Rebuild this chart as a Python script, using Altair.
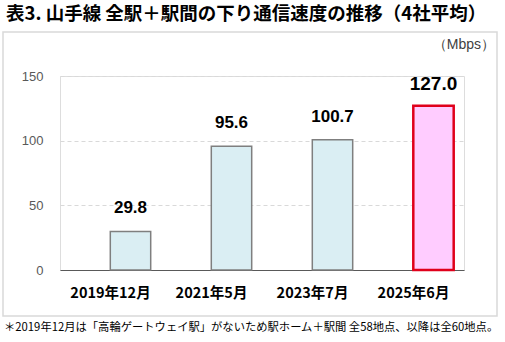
import altair as alt
import pandas as pd

categories = ["2019年12月", "2021年5月", "2023年7月", "2025年6月"]
values = [29.8, 95.6, 100.7, 127.0]
labels = ["29.8", "95.6", "100.7", "127.0"]
highlight = [False, False, False, True]

title_text = "表3. 山手線 全駅＋駅間の下り通信速度の推移（4社平均）"
unit_text = "（Mbps）"
note_text = "＊2019年12月は「高輪ゲートウェイ駅」がないため駅ホーム＋駅間 全58地点、以降は全60地点。"

df = pd.DataFrame({"cat": categories, "val": values, "lab": labels, "hl": highlight})

JP = "Noto Sans CJK JP"
NUM = "Liberation Sans"

W, H = 404, 194
x = alt.X("cat:N", sort=categories, title=None,
          scale=alt.Scale(paddingInner=0.6, paddingOuter=0.3),
          axis=alt.Axis(labelAngle=0, labelFont=JP, labelFontWeight="bold", labelFontSize=14.5,
                        labelColor="#000000", labelPadding=16, ticks=False,
                        domainColor="#595959", domainWidth=1))
y = alt.Y("val:Q", title=None,
          scale=alt.Scale(domain=[0, 150], nice=False),
          axis=alt.Axis(values=[0, 50, 100, 150], labelFont=NUM, labelFontSize=13,
                        labelColor="#595959", labelPadding=17, ticks=False, domain=False,
                        grid=True, gridColor="#d9d9d9", gridDash=[4, 3], gridWidth=1))

base = alt.Chart(df)
one = "datum.cat == '2019年12月'"
SHIFT = 20

frame = base.transform_filter(one).mark_rect(
    fill=None, fillOpacity=0, stroke="#d9d9d9", strokeWidth=1.5).encode(
    x=alt.value(-57), x2=alt.value(437), y=alt.value(-44), y2=alt.value(240)
)

bars_normal = base.transform_filter("!datum.hl").mark_bar(
    fill="#DAEEF3", stroke="#7f7f7f", strokeWidth=1.5, xOffset=SHIFT).encode(x=x, y=y)
bars_hl = base.transform_filter("datum.hl").mark_bar(
    fill="#FFCCFF", stroke="#E0001B", strokeWidth=2.5, xOffset=SHIFT).encode(x=x, y=y)

text_normal = base.transform_filter("!datum.hl").mark_text(
    font=NUM, fontWeight="bold", fontSize=17, dy=-14, dx=SHIFT, baseline="bottom", color="#000000"
).encode(x=x, y=y, text="lab:N")
text_hl = base.transform_filter("datum.hl").mark_text(
    font=NUM, fontWeight="bold", fontSize=19, dy=-12, dx=SHIFT, baseline="bottom", color="#000000"
).encode(x=x, y=y, text="lab:N")

title = base.transform_filter(one).mark_text(
    font=JP, fontWeight="bold", fontSize=18.5, align="left", baseline="middle", color="#000000"
).encode(x=alt.value(-54), y=alt.value(-62), text=alt.value(title_text))

unit = base.transform_filter(one).mark_text(
    font=NUM, fontSize=14, align="right", baseline="middle", color="#404040"
).encode(x=alt.value(435), y=alt.value(-31), text=alt.value(unit_text))

note = base.transform_filter(one).mark_text(
    font=JP, fontSize=11.3, align="left", baseline="middle", color="#000000"
).encode(x=alt.value(-56), y=alt.value(252), text=alt.value(note_text))

chart = alt.layer(frame, bars_normal, bars_hl, text_normal, text_hl, title, unit, note).properties(
    width=W, height=H,
    autosize=alt.AutoSizeParams(type="none"),
    padding={"left": 60, "top": 76, "right": 41, "bottom": 72},
).configure_view(stroke=None).configure(background="white")

chart.save("out.html", embed_options={"renderer": "svg", "actions": False})
